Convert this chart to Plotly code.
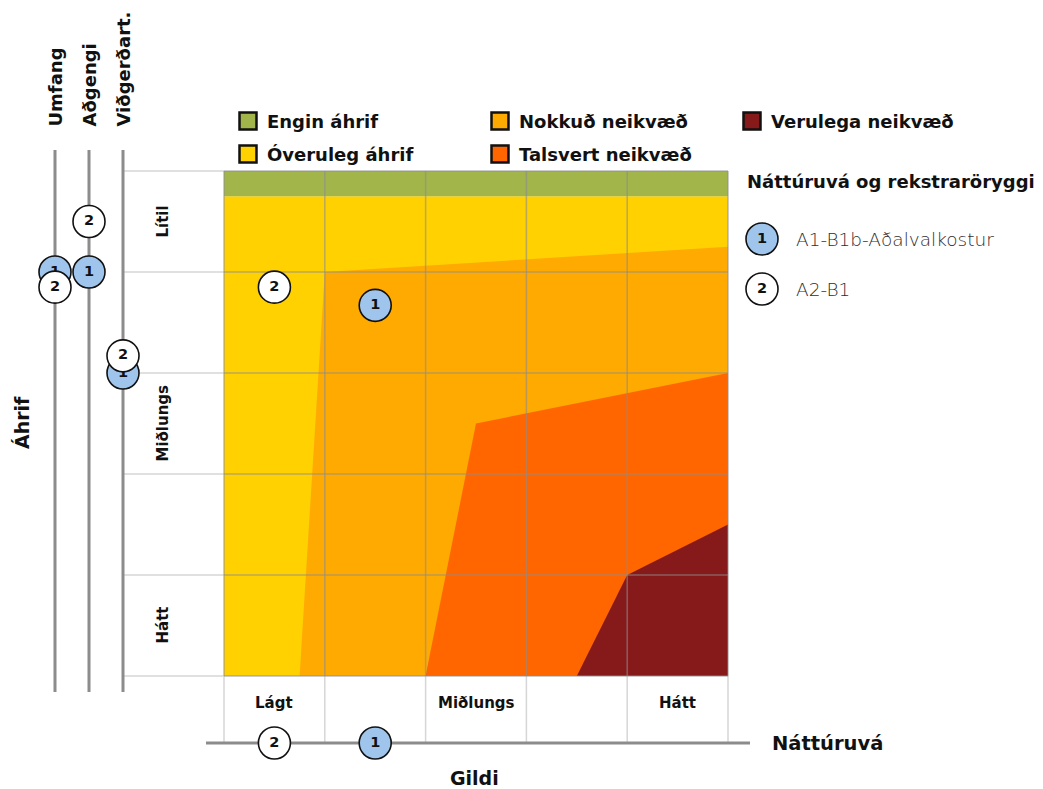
import plotly.graph_objects as go

# ---------------- data ----------------
value_labels = ["Lágt", "", "Miðlungs", "", "Hátt"]          # Gildi (x categories)
impact_labels = ["Hátt", "", "Miðlungs", "", "Lítil"]        # Áhrif (y categories, bottom->top)
side_axes = ["Umfang", "Aðgengi", "Viðgerðart."]

zone_names = ["Engin áhrif", "Óveruleg áhrif", "Nokkuð neikvæð", "Talsvert neikvæð", "Verulega neikvæð"]
zone_colors = ["#A1B54A", "#FFD100", "#FFAA00", "#FF6600", "#861A1A"]
zone_green_x = [0, 5, 5, 0]
zone_green_y = [4.75, 4.75, 5, 5]
zone_yellow_x = [0, 5, 5, 0]
zone_yellow_y = [0, 0, 4.75, 4.75]
zone_orange_x = [0.75, 5, 5, 1.0]
zone_orange_y = [0, 0, 4.25, 4.0]
zone_red_x = [2.0, 5, 5, 2.5]
zone_red_y = [0, 0, 3.0, 2.5]
zone_dark_x = [3.5, 5, 5, 4.0]
zone_dark_y = [0, 0, 1.5, 1.0]

alt_ids = ["1", "2"]
alt_names = ["A1-B1b-Aðalvalkostur", "A2-B1"]
alt_colors = ["#9FC5EC", "#FFFFFF"]
gildi = [1.5, 0.5]
nattuvua_ahrif = [3.67, 3.85]
umfang = [4.0, 3.85]
adgengi = [4.0, 4.5]
vidgerdart = [3.0, 3.17]

# ---------------- layout helpers (screen pixel -> data scale) ----------------
PXX = 100.8
PXY = 101.0
OFF = 8  # page body margin
def dx(px):
    return (px - 224) / PXX
def dy(py):
    return (676 - py) / PXY

FONT = "DejaVu Sans, sans-serif"
fig = go.Figure()

# zones
for xs, ys, col, nm in [
    (zone_yellow_x, zone_yellow_y, zone_colors[1], zone_names[1]),
    (zone_green_x, zone_green_y, zone_colors[0], zone_names[0]),
    (zone_orange_x, zone_orange_y, zone_colors[2], zone_names[2]),
    (zone_red_x, zone_red_y, zone_colors[3], zone_names[3]),
    (zone_dark_x, zone_dark_y, zone_colors[4], zone_names[4]),
]:
    fig.add_trace(go.Scatter(x=xs + [xs[0]], y=ys + [ys[0]], fill="toself", fillcolor=col,
                             mode="lines", line=dict(width=0, color=col), name=nm,
                             hoverinfo="skip", showlegend=False))

# light extension lines outside the plot
ext_x, ext_y = [], []
for i in range(6):
    ext_x += [i, i, None]
    ext_y += [0, dy(743), None]
    ext_x += [dx(123), 0, None]
    ext_y += [i, i, None]
fig.add_trace(go.Scatter(x=ext_x, y=ext_y, mode="lines", line=dict(color="#D6D6D6", width=1.5),
                         hoverinfo="skip", showlegend=False))

# grid lines inside plot
gx, gy = [], []
for i in range(6):
    gx += [i, i, None]
    gy += [0, 5, None]
    gx += [0, 5, None]
    gy += [i, i, None]
fig.add_trace(go.Scatter(x=gx, y=gy, mode="lines", line=dict(color="rgba(140,140,140,0.6)", width=1.5),
                         hoverinfo="skip", showlegend=False))

# axis lines (bottom + three side axes)
side_x = [dx(55), dx(89), dx(123)]
ax_x = [dx(206), dx(750), None]
ax_y = [dy(743), dy(743), None]
for sx in side_x:
    ax_x += [sx, sx, None]
    ax_y += [dy(150), dy(692), None]
fig.add_trace(go.Scatter(x=ax_x, y=ax_y, mode="lines", line=dict(color="#8C8C8C", width=3),
                         hoverinfo="skip", showlegend=False))

# markers
def circles(xs, ys, i):
    fig.add_trace(go.Scatter(x=xs, y=ys, mode="markers+text", text=[alt_ids[i]] * len(xs),
                             textposition="middle center",
                             textfont=dict(family=FONT, size=14.5, color="#111111", weight=700),
                             marker=dict(size=32, color=alt_colors[i], line=dict(color="#111111", width=1.6)),
                             name=alt_names[i], showlegend=False, hoverinfo="skip", cliponaxis=False))

for i in range(2):
    xs = [gildi[i], gildi[i], side_x[0], side_x[1], side_x[2], dx(762)]
    ys = [nattuvua_ahrif[i], dy(743), umfang[i], adgengi[i], vidgerdart[i], dy(239) if i == 0 else dy(289)]
    circles(xs, ys, i)

# top legend squares
leg_sq_x = [dx(248), dx(248), dx(500), dx(500), dx(752)]
leg_sq_y = [dy(121), dy(154), dy(121), dy(154), dy(121)]
fig.add_trace(go.Scatter(x=leg_sq_x, y=leg_sq_y, mode="markers",
                         marker=dict(symbol="square", size=17, color=zone_colors,
                                     line=dict(color="#111111", width=2.5)),
                         hoverinfo="skip", showlegend=False, cliponaxis=False))

ann = []
def txt(x, y, t, size=18, weight=700, color="#111111", xa="center", ya="middle", angle=0):
    ann.append(dict(x=x, y=y, xref="x", yref="y", text=t, showarrow=False, xanchor=xa, yanchor=ya,
                    textangle=angle, font=dict(family=FONT, size=size, color=color, weight=weight)))

for j in range(5):
    txt(leg_sq_x[j] + dx(265) - dx(248), leg_sq_y[j], zone_names[j], xa="left")

txt(dx(745), dy(181), "Náttúruvá og rekstraröryggi", xa="left")
txt(dx(794), dy(239), alt_names[0], size=18.5, weight=300, color="#2E2E2E", xa="left")
txt(dx(794), dy(289), alt_names[1], size=18.5, weight=300, color="#2E2E2E", xa="left")

for i, lab in enumerate(value_labels):
    if lab:
        txt(i + 0.5, dy(703), lab, size=15)
for i, lab in enumerate(impact_labels):
    if lab:
        txt(dx(162), i + 0.5, lab, size=15, angle=-90)

for sx, lab in zip(side_x, side_axes):
    txt(sx, dy(129), lab, size=18, angle=-90, ya="bottom")

txt(dx(22), dy(423), "Áhrif", size=19, angle=-90)
txt(dx(474), dy(778), "Gildi", size=19)
txt(dx(770), dy(743), "Náttúruvá", size=19.5, xa="left")

fig.update_layout(
    width=1043 - OFF, height=789 - OFF, margin=dict(l=0, r=0, t=0, b=0, pad=0),
    paper_bgcolor="white", plot_bgcolor="white", showlegend=False,
    xaxis=dict(range=[dx(OFF), dx(1043)], visible=False, fixedrange=True),
    yaxis=dict(range=[dy(789), dy(OFF)], visible=False, fixedrange=True),
    annotations=ann, font=dict(family=FONT),
)
fig.write_html("out.html")
